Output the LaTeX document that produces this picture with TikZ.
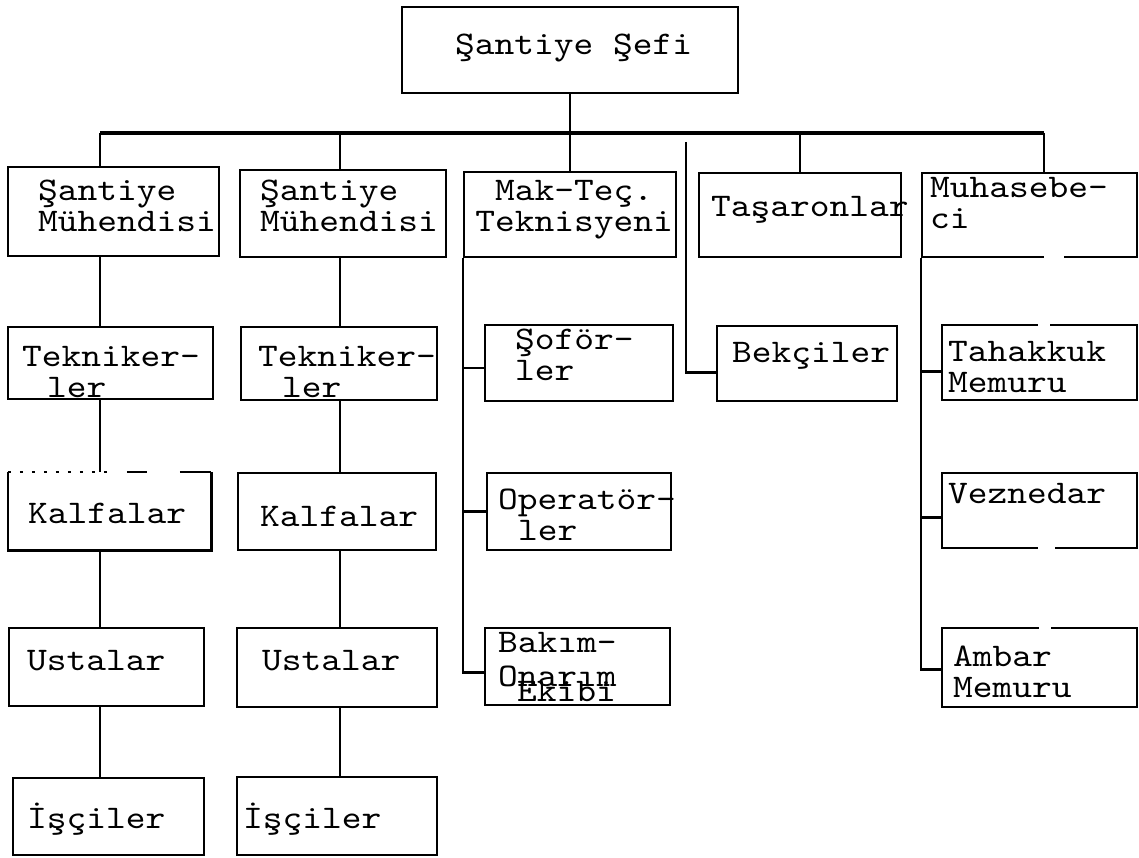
\documentclass[tikz,border=0pt]{standalone}
\usepackage{fontspec}
\newfontfamily\tymono{lmmono10-regular.otf}[FakeStretch=1.14]
\newcommand\tyfont{\tymono\fontsize{33}{31}\selectfont}
\usetikzlibrary{fit}
\begin{document}
\begin{tikzpicture}[x=1pt,y=-1pt,
  boxline/.style={line width=2.6pt},
  box/.style={draw, boxline, inner sep=0pt},
  conn/.style={line width=2.4pt},
  barline/.style={line width=3.6pt},
  gap/.style={white, line width=6pt},
  txt/.style={font=\tyfont, anchor=base west, inner sep=0pt, align=left}]
\useasboundingbox[fill=white] (0,0) rectangle (1139,858);

% ---------- boxes ----------
\node[box, fit={(402,7) (738,93)}] (sef) {};
\node[box, fit={(8,167) (219,256)}] (m1) {};
\node[box, fit={(240,170) (446,257)}] (m2) {};
\node[box, fit={(464,172) (676,257)}] (mak) {};
\node[box, fit={(699,173) (901,257)}] (tas) {};
\node[box, fit={(922,173) (1137,257)}] (muh) {};

\node[box, fit={(8,327) (213,399)}] (tek1) {};
\node[box, fit={(241,327) (437,400)}] (tek2) {};
\node[box, fit={(485,325) (673,401)}] (sof) {};
\node[box, fit={(717,326) (897,401)}] (bek) {};
\node[box, fit={(942,325) (1137,400)}] (tah) {};

\node[inner sep=0pt, fit={(8,472) (211,550)}] (kal1) {};
\draw[boxline] (kal1.north west) -- (kal1.south west) -- (kal1.south east) -- (kal1.north east);
\draw[boxline, line width=1.8pt, dash pattern=on 3pt off 9pt on 3pt off 9pt on 3pt off 9pt on 3pt off 9pt on 3pt off 9pt on 3pt off 9pt on 3pt off 9pt on 3pt off 9pt on 3pt off 20pt on 20pt off 33pt on 31pt off 20pt] (kal1.north west) -- (kal1.north east);
\node[box, fit={(238,473) (436,550)}] (kal2) {};
\node[box, fit={(487,473) (671,550)}] (opr) {};
\node[box, fit={(942,473) (1137,548)}] (vez) {};

\node[box, fit={(9,628) (204,706)}] (ust1) {};
\node[box, fit={(237,628) (437,707)}] (ust2) {};
\node[box, fit={(485,628) (670,705)}] (bak) {};
\node[box, fit={(942,628) (1137,707)}] (amb) {};

\node[box, fit={(13,778) (204,855)}] (isc1) {};
\node[box, fit={(237,777) (437,855)}] (isc2) {};

% small breaks in the typed borders
\draw[gap] (1044,257) -- (1064,257);
\draw[gap] (1038,325) -- (1050,325);
\draw[gap] (1038,548) -- (1055,548);
\draw[gap] (1039,628) -- (1051,628);

% ---------- texts (anchor = baseline of the last line) ----------
\node[txt] (tsef) at (455,55) {Şantiye Şefi};
\node[txt] (tm1) at (38,232) {Şantiye\\Mühendisi};
\node[txt] (tm2) at (260,232) {Şantiye\\Mühendisi};
\node[txt, anchor=base, align=center] (tmak) at (574,232) {Mak-Teç.\\Teknisyeni};
\node[txt] (ttas) at (711,217) {Taşaronlar};
\node[txt] (tmuh) at (930,229) {Muhasebe-\\ci};

\node[txt] (ttek1) at (22,397) {Tekniker-\\\hspace*{25pt}ler};
\node[txt] (ttek2) at (258,397) {Tekniker-\\\hspace*{24pt}ler};
\node[txt] (tsof) at (515,380) {Şoför-\\ler};
\node[txt] (tbek) at (732,362) {Bekçiler};
\node[txt] (ttah) at (948,392) {Tahakkuk\\Memuru};

\node[txt] (tkal1) at (28,523) {Kalfalar};
\node[txt] (tkal2) at (260,526) {Kalfalar};
\node[txt] (topr) at (498,540) {Operatör-\\\hspace*{20pt}ler};
\node[txt] (tvez) at (948,503) {Veznedar};

\node[txt] (tust1) at (27,670) {Ustalar};
\node[txt] (tust2) at (262,670) {Ustalar};
\node[txt] (tbak1) at (498,652) {Bakım-};
\node[txt] (tbak2) at (498,686) {Onarım};
\node[txt] (tbak3) at (517,701) {Ekibi};
\node[txt] (tamb) at (953,697) {Ambar\\Memuru};

\node[txt] (tisc1) at (27,828) {İşçiler};
\node[txt] (tisc2) at (243,828) {İşçiler};

% ---------- connectors ----------
\coordinate (barL) at (100,133);
\coordinate (barR) at (1044,133);
\coordinate (c1) at (100,133);
\coordinate (c2) at (340,133);
\coordinate (bektop) at (686,142);
\coordinate (sofb) at ([yshift=-5pt]sof.west);
\coordinate (bakb) at ([yshift=-6pt]bak.west);
\coordinate (bekb) at ([yshift=-9pt]bek.west);
\coordinate (tahb) at ([yshift=-9pt]tah.west);
\coordinate (vezb) at ([yshift=-7pt]vez.west);
\coordinate (ambb) at ([yshift=-2pt]amb.west);

\draw[barline] (barL) -- (barR);
\draw[conn] (sef.south) -- (sef.south |- barL);
\draw[conn] (barL) -- (barL |- m1.north);
\draw[conn] (c2) -- (c2 |- m2.north);
\draw[conn] (mak.north) -- (mak.north |- barL);
\draw[conn] (tas.north) -- (tas.north |- barL);
\draw[conn] (barR) -- (barR |- muh.north);

% column 1
\draw[conn] (c1 |- m1.south) -- (c1 |- tek1.north);
\draw[conn] (c1 |- tek1.south) -- (c1 |- kal1.north);
\draw[conn] (c1 |- kal1.south) -- (c1 |- ust1.north);
\draw[conn] (c1 |- ust1.south) -- (c1 |- isc1.north);
% column 2
\draw[conn] (c2 |- m2.south) -- (c2 |- tek2.north);
\draw[conn] (c2 |- tek2.south) -- (c2 |- kal2.north);
\draw[conn] (c2 |- kal2.south) -- (c2 |- ust2.north);
\draw[conn] (c2 |- ust2.south) -- (c2 |- isc2.north);
% machine column
\draw[conn] (mak.south west) |- (bakb);
\draw[conn] (mak.south west |- sofb) -- (sofb);
\draw[conn] (mak.south west |- opr.west) -- (opr.west);
% guards
\draw[conn] (bektop) |- (bekb);
% accounting column
\draw[conn] (muh.south west) |- (ambb);
\draw[conn] (muh.south west |- tahb) -- (tahb);
\draw[conn] (muh.south west |- vezb) -- (vezb);
\end{tikzpicture}
\end{document}
